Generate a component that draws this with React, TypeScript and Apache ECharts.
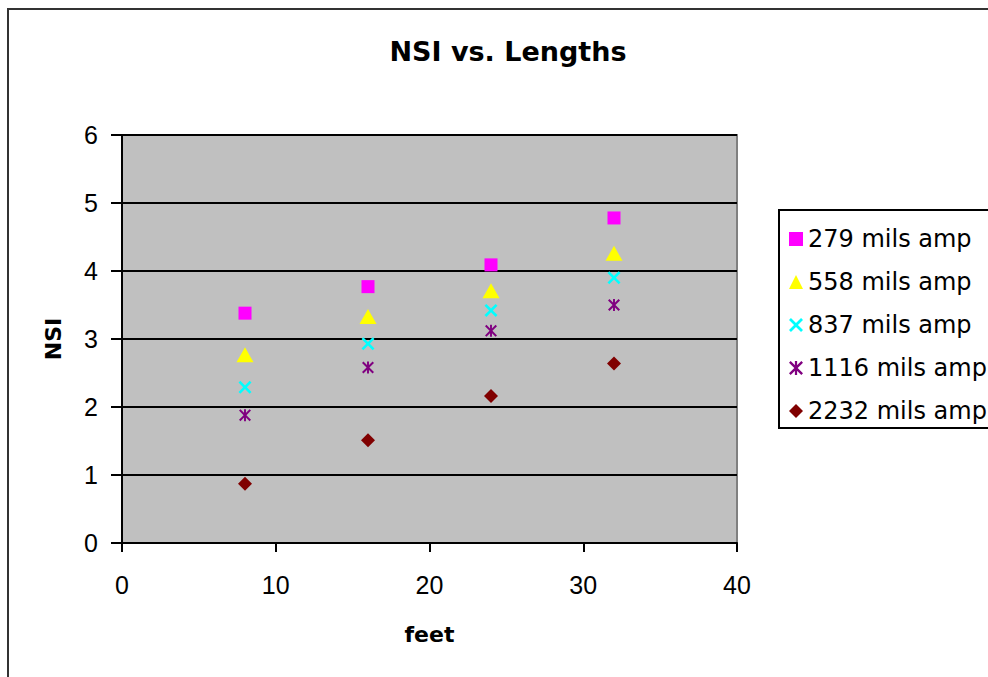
import React, { useEffect, useRef } from "react";
import * as echarts from "echarts";

const feet = [8, 16, 24, 32];
const s279 = [3.38, 3.77, 4.09, 4.78];
const s558 = [2.77, 3.33, 3.71, 4.26];
const s837 = [2.29, 2.93, 3.42, 3.9];
const s1116 = [1.88, 2.58, 3.12, 3.5];
const s2232 = [0.87, 1.51, 2.16, 2.64];

const seriesNames = ["279 mils amp", "558 mils amp", "837 mils amp", "1116 mils amp", "2232 mils amp"];
const seriesValues = [s279, s558, s837, s1116, s2232];
const seriesColors = ["#FF00FF", "#FFFF00", "#00FFFF", "#800080", "#800000"];

const X_PATH = "path://M0,1.4 L1.4,0 L5,3.6 L8.6,0 L10,1.4 L6.4,5 L10,8.6 L8.6,10 L5,6.4 L1.4,10 L0,8.6 L3.6,5 Z";
const STAR_PATH =
  "path://M4.2,0 L5.8,0 L5.8,10 L4.2,10 Z M0,1.2 L1.2,0 L5,3.8 L8.8,0 L10,1.2 L6.2,5 L10,8.8 L8.8,10 L5,6.2 L1.2,10 L0,8.8 L3.8,5 Z";
const seriesSymbols = ["rect", "triangle", X_PATH, STAR_PATH, "diamond"];
const seriesSizes: any[] = [13, [17, 15], 13, 12, 14];

export default function App() {
  const ref = useRef<HTMLDivElement>(null);
  useEffect(() => {
    if (!ref.current) return;
    const chart = echarts.init(ref.current, null, { renderer: "svg" });
    const tickFont = { fontFamily: "Liberation Sans, Arial, sans-serif", fontSize: 25, color: "#000" };
    chart.setOption({
      animation: false,
      backgroundColor: "#fff",
      title: {
        text: "NSI vs. Lengths",
        left: 503,
        top: 33,
        textAlign: "center",
        textStyle: { fontFamily: "DejaVu Sans", fontWeight: "bold", fontSize: 27, color: "#000" },
      },
      grid: {
        left: 122,
        top: 135,
        right: 251,
        bottom: 134,
        show: true,
        backgroundColor: "#C0C0C0",
        borderColor: "#808080",
        borderWidth: 2,
      },
      xAxis: {
        type: "value",
        min: 0,
        max: 40,
        interval: 10,
        name: "feet",
        nameLocation: "middle",
        nameGap: 80,
        nameTextStyle: { fontFamily: "DejaVu Sans", fontWeight: "bold", fontSize: 22, color: "#000" },
        axisLine: { onZero: false, lineStyle: { color: "#000", width: 2 } },
        axisTick: { show: true, inside: false, length: 9, lineStyle: { color: "#000", width: 2 } },
        axisLabel: { ...tickFont, margin: 29 },
        splitLine: { show: false },
      },
      yAxis: {
        type: "value",
        min: 0,
        max: 6,
        interval: 1,
        name: "NSI",
        nameLocation: "middle",
        nameGap: 58,
        nameRotate: 90,
        nameTextStyle: { fontFamily: "DejaVu Sans", fontWeight: "bold", fontSize: 22, color: "#000" },
        axisLine: { show: true, lineStyle: { color: "#000", width: 2 } },
        axisTick: { show: true, inside: false, length: 11, lineStyle: { color: "#000", width: 2 } },
        axisLabel: { ...tickFont, margin: 24 },
        splitLine: { show: true, lineStyle: { color: "#000", width: 2 } },
      },
      legend: {
        orient: "vertical",
        left: 779,
        top: 210,
        borderColor: "#000",
        borderWidth: 2,
        padding: [15, 60, 3, 10],
        itemGap: 15,
        itemWidth: 14,
        itemHeight: 14,
        itemTextGap: 8,
        textStyle: { fontFamily: "DejaVu Sans", fontSize: 24, color: "#000", lineHeight: 28 },
        data: seriesNames.map((n, i) => ({ name: n, icon: seriesSymbols[i] })),
      },
      graphic: [
        {
          type: "rect",
          shape: { x: 8, y: 9, width: 1100, height: 800 },
          style: { fill: "none", stroke: "#333", lineWidth: 2 },
          silent: true,
          z: -1,
        },
      ],
      series: seriesNames.map((n, i) => ({
        name: n,
        type: "scatter",
        symbol: seriesSymbols[i],
        symbolSize: seriesSizes[i],
        itemStyle: { color: seriesColors[i], opacity: 1 },
        data: feet.map((f, j) => [f, seriesValues[i][j]]),
      })),
    });
    return () => chart.dispose();
  }, []);
  return (
    <div
      ref={ref}
      style={{ position: "fixed", left: 0, top: 0, width: 988, height: 677, background: "#fff" }}
    />
  );
}
